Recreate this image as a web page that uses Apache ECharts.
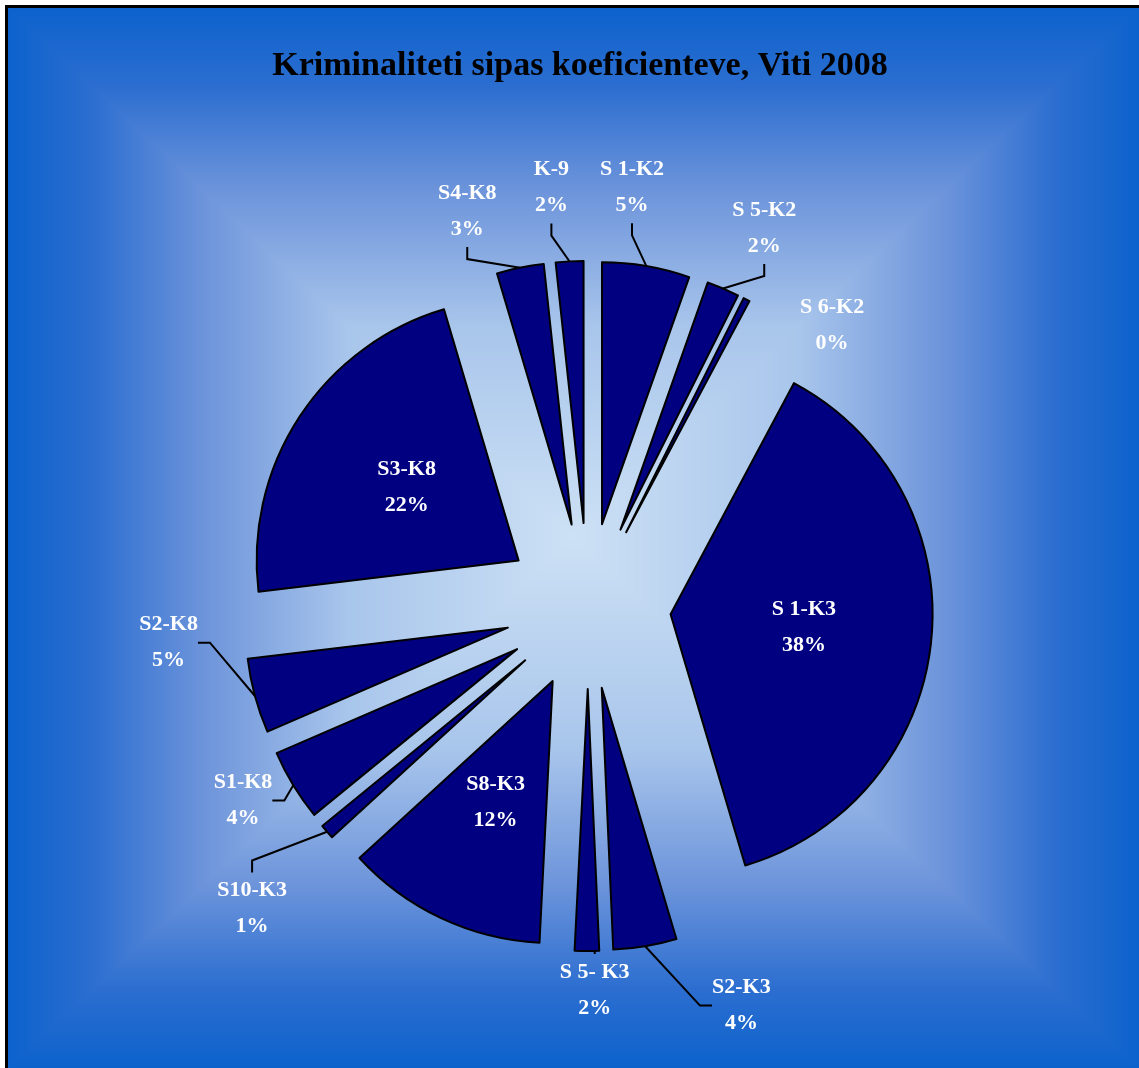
<!DOCTYPE html>
<html>
<head>
<meta charset="utf-8">
<title>Kriminaliteti sipas koeficienteve, Viti 2008</title>
<script src="https://cdn.jsdelivr.net/npm/echarts@6/dist/echarts.min.js"></script>
<style>
  html, body { margin: 0; padding: 0; background: #fff; }
  #wrap { position: relative; width: 1139px; height: 1068px; }
  #bg, #main { position: absolute; left: 0; top: 0; width: 1139px; height: 1068px; }
</style>
</head>
<body>
<div id="wrap">
  <canvas id="bg" width="1139" height="1068"></canvas>
  <div id="main"></div>
</div>
<script>
// te dhenat (perqindje, lexuar nga grafiku)
var categories = ['S 1-K2', 'S 5-K2', 'S 6-K2', 'S 1-K3', 'S2-K3', 'S 5- K3', 'S8-K3',
                  'S10-K3', 'S1-K8', 'S2-K8', 'S3-K8', 'S4-K8', 'K-9'];
var shares = [5.4, 2.0, 0.4, 37.6, 3.9, 1.5, 12.4, 0.9, 4.4, 4.6, 22.3, 2.9, 1.7];

// vendi i etiketave jashte: [rrezja, kendi ne grade nga veriu]
var labelSpots = {
  'S 1-K2': [421, 6],
  'S 5-K2': [417, 25],
  'S 6-K2': [372, 41],
  'S2-K3': [428, 159],
  'S 5- K3': [384, 179],
  'S10-K3': [452, 228],
  'S1-K8': [396, 240.6],
  'S2-K8': [421, 265],
  'S4-K8': [413, 343],
  'K-9': [420, 355]
};
// etiketa pa vije udhezuese
var noLine = ['S 6-K2'];

var CX = 588, CY = 606, RAD = 262, EXPLODE = 83;
var L = 8, T = 7, R = 1139, B = 1068, MX = 573, MY = 537;
var FONT = '"Liberation Serif", "DejaVu Serif", serif';

// sfondi: gradient drejtkendor nga qendra (si ne Excel)
var stops = [
  [0, [12, 98, 204]],
  [0.15, [44, 110, 208]],
  [0.35, [110, 149, 219]],
  [0.6, [168, 197, 235]],
  [1, [205, 225, 245]]
];
function drawBackground() {
  var cv = document.getElementById('bg');
  var ctx = cv.getContext('2d');
  ctx.fillStyle = '#fff';
  ctx.fillRect(0, 0, cv.width, cv.height);
  var w = R - L, h = B - T;
  var img = ctx.createImageData(w, h);
  for (var y = 0; y < h; y++) {
    var py = y + T;
    var ty = py < MY ? (MY - py) / (MY - T) : (py - MY) / (B - MY);
    for (var x = 0; x < w; x++) {
      var px = x + L;
      var tx = px < MX ? (MX - px) / (MX - L) : (px - MX) / (R - MX);
      var e = 1 - Math.min(1, Math.max(tx, ty));
      var k = 1;
      while (k < stops.length - 1 && e > stops[k][0]) k++;
      var a = stops[k - 1], b = stops[k];
      var f = (e - a[0]) / (b[0] - a[0]);
      var i = (y * w + x) * 4;
      img.data[i] = a[1][0] + (b[1][0] - a[1][0]) * f;
      img.data[i + 1] = a[1][1] + (b[1][1] - a[1][1]) * f;
      img.data[i + 2] = a[1][2] + (b[1][2] - a[1][2]) * f;
      img.data[i + 3] = 255;
    }
  }
  ctx.putImageData(img, L, T);
  // korniza majtas dhe lart
  ctx.fillStyle = '#000';
  ctx.fillRect(5, 5, R - 5, 3);
  ctx.fillRect(5, 5, 3, B - 5);
}
drawBackground();

var total = shares.reduce(function (s, v) { return s + v; }, 0);

// cdo fete ne seri te vet, me qender te zhvendosur (pie e shperthyer)
var series = [];
var cum = 0;
categories.forEach(function (name, n) {
  var mid = (cum + shares[n] / 2) / total * 2 * Math.PI;
  cum += shares[n];
  var inside = shares[n] >= 10;
  var data = categories.map(function (nm, i) {
    if (i === n) {
      return {
        name: nm, value: shares[i],
        label: { show: true, position: inside ? 'inside' : 'outside' },
        labelLine: { show: !inside && noLine.indexOf(nm) < 0 }
      };
    }
    return {
      name: nm, value: shares[i],
      itemStyle: { color: 'rgba(0,0,0,0)', borderWidth: 0 },
      label: { show: false },
      labelLine: { show: false }
    };
  });
  series.push({
    type: 'pie',
    silent: true,
    center: [CX + EXPLODE * Math.sin(mid), CY - EXPLODE * Math.cos(mid)],
    radius: RAD,
    startAngle: 90,
    clockwise: true,
    avoidLabelOverlap: false,
    itemStyle: { color: '#000080', borderColor: '#000', borderWidth: 2 },
    emphasis: { disabled: true },
    label: {
      color: '#fff',
      fontFamily: FONT,
      fontWeight: 'bold',
      fontSize: 22,
      lineHeight: 36,
      align: 'center',
      formatter: function (p) {
        return p.name + '\n' + Math.round(p.percent) + '%';
      }
    },
    labelLine: {
      length: 15,
      length2: 12,
      lineStyle: { color: '#000', width: 2 }
    },
    labelLayout: function (p) {
      var spot = labelSpots[categories[p.dataIndex]];
      if (!spot || p.dataIndex !== n) return {};
      var a = spot[1] * Math.PI / 180;
      return {
        x: CX + spot[0] * Math.sin(a),
        y: CY - spot[0] * Math.cos(a),
        align: 'center',
        verticalAlign: 'middle'
      };
    },
    data: data
  });
});

var chart = echarts.init(document.getElementById('main'));

var option = {
  animation: false,
  title: {
    text: 'Kriminaliteti sipas koeficienteve, Viti 2008',
    left: 575,
    textAlign: 'center',
    top: 44,
    textStyle: { fontFamily: FONT, fontWeight: 'bold', fontSize: 34, color: '#000' }
  },
  series: series
};

chart.setOption(option);
</script>
</body>
</html>
